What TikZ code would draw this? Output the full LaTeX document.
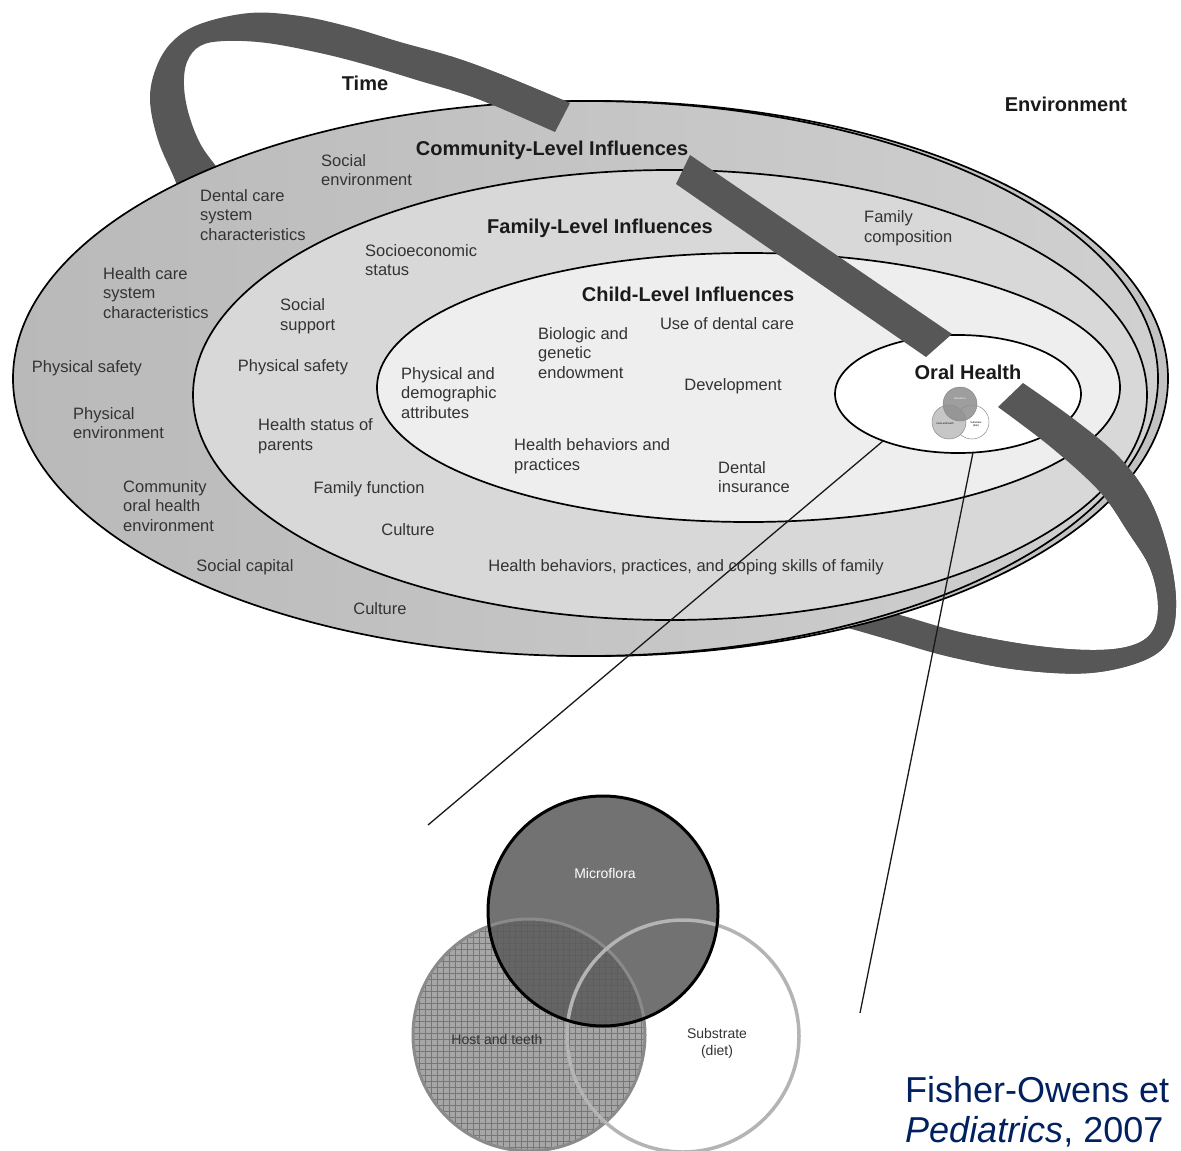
\documentclass[tikz,border=0pt]{standalone}
\usepackage{fontspec}
\setmainfont{Liberation Sans}
\definecolor{ribgray}{HTML}{575757}
\definecolor{rimgray}{HTML}{C2C2C2}
\definecolor{commL}{HTML}{B9B9B9}
\definecolor{commR}{HTML}{D0D0D0}
\definecolor{famgray}{HTML}{D8D8D8}
\definecolor{childgray}{HTML}{EEEEEE}
\definecolor{txtgray}{HTML}{333333}
\definecolor{hdrgray}{HTML}{1A1A1A}
\definecolor{citeblue}{HTML}{002060}
\definecolor{microgray}{HTML}{5A5A5A}
\definecolor{hostgray}{HTML}{A6A6A6}
\definecolor{gridgray}{HTML}{767676}
\definecolor{hostline}{HTML}{8A8A8A}
\definecolor{subline}{HTML}{B4B4B4}
\definecolor{smallmicro}{HTML}{8E8E8E}
\definecolor{smallhost}{HTML}{C6C6C6}
\newcommand{\ribTopPath}{plot[smooth,tension=0.6] coordinates {(188,215) (175,180) (158,140) (150,100) (156,68) (172,42) (200,24) (250,13) (300,16) (350,27) (400,42) (450,56) (500,74) (570,103)} -- plot[smooth,tension=0.6] coordinates {(555,132) (500,108) (467,95) (420,81) (367,65) (320,53) (267,43) (225,41) (200,46) (187,62) (184,86) (189,115) (201,145) (220,172) (240,205)} -- cycle}
\newcommand{\ribRightPath}{plot[smooth,tension=0.6] coordinates {(1023,383) (1075,420) (1120,458) (1150,500) (1168,550) (1176,600) (1170,638) (1145,660) (1090,673) (1020,670) (950,657) (890,640) (840,626) (790,615)} -- plot[smooth,tension=0.6] coordinates {(780,590) (840,600) (900,615) (960,632) (1030,645) (1090,650) (1130,646) (1152,632) (1158,605) (1150,568) (1128,532) (1100,492) (1052,448) (998,407)} -- cycle}
\begin{document}
\begin{tikzpicture}[x=1pt,y=-1pt,
  lbl/.style={font=\fontsize{16.5}{19.5}\selectfont, text=txtgray, inner sep=0pt, align=left},
  hdr/.style={font=\bfseries\fontsize{20}{24}\selectfont, text=hdrgray, inner sep=0pt},
  ribbon/.style={fill=ribgray},
  ring/.style={draw=black, line width=1.7pt},
  leader/.style={draw=black!90, line width=1.3pt},
  gridline/.style={draw=gridgray, line width=0.6pt},
  vennlbl/.style={font=\fontsize{14}{17}\selectfont, inner sep=0pt, align=center},
  tinylbl/.style={font=\fontsize{2.6}{3}\selectfont, inner sep=0pt, align=center},
  cite/.style={font=\fontsize{36}{45}\selectfont, text=citeblue, inner sep=0pt, anchor=west}
]
\useasboundingbox[fill=white] (0,0) rectangle (1181,1151);

% ribbons below the discs
\fill[ribbon] \ribTopPath;
\fill[ribbon] \ribRightPath;

% nested discs
\path[ring, fill=rimgray] (595.5,378.5) ellipse [x radius=572.5pt, y radius=277.5pt];
\path[ring, left color=commL, right color=commR] (585.5,378.5) ellipse [x radius=572.5pt, y radius=277.5pt];
\path[ring, fill=famgray] (670,395) ellipse [x radius=477pt, y radius=225pt];
\path[ring, fill=childgray] (748.5,387.5) ellipse [x radius=371.5pt, y radius=134.5pt];
\path[ring, fill=white] (958,394) ellipse [x radius=123pt, y radius=59pt];

% small venn in oral health
\path[draw=hostline, line width=0.5pt, fill=white] (972,422) circle[radius=17pt];
\path[draw=hostline, line width=0.5pt, fill=smallhost] (949,422) circle[radius=17pt];
\path[fill=smallmicro, fill opacity=0.85] (960,404) circle[radius=17pt];
\path[draw=hostline, line width=0.5pt] (960,404) circle[radius=17pt];
\node[tinylbl, text=white] (smicro) at (960,399) {Microflora};
\node[tinylbl] (shost) at (945,424) {Host and teeth};
\node[tinylbl] (ssub) at (976,424) {Substrate\\(diet)};

% ribbon parts on top of the discs
\begin{scope}
  \clip (450,0) rectangle (700,200);
  \fill[ribbon] \ribTopPath;
\end{scope}
\begin{scope}
  \clip (980,300) rectangle (1181,720);
  \fill[ribbon] \ribRightPath;
\end{scope}
\fill[ribbon] (690,155) -- (952,334) -- (926,357) -- (676,184) -- cycle;

% big venn
\coordinate (vmicro) at (603,911);
\coordinate (vhost) at (529,1035);
\coordinate (vsub) at (683,1036);
\path[fill=white] (vsub) circle[radius=116pt];
\path[fill=hostgray] (vhost) circle[radius=116pt];
\begin{scope}
  \clip (vhost) circle[radius=116pt];
  \foreach \k in {0,...,39} {
    \draw[gridline] (413+\k*6,915) -- ++(0,240);
    \draw[gridline] (410,919+\k*6) -- ++(240,0);
  }
\end{scope}
\path[fill=microgray, fill opacity=0.85] (vmicro) circle[radius=115pt];
\path[draw=hostline, line width=3pt] (vhost) circle[radius=116pt];
\path[draw=subline, line width=3.5pt] (vsub) circle[radius=116pt];
\path[draw=black, line width=3pt] (vmicro) circle[radius=115pt];

% leader lines
\coordinate (ohA) at (883,441);
\coordinate (ohB) at (973,452.5);
\coordinate (vA) at (428,825);
\coordinate (vB) at (860,1013);
\draw[leader] (ohA) -- (vA);
\draw[leader] (ohB) -- (vB);

% headers
\node[hdr] (time) at (365,83) {Time};
\node[hdr] (env) at (1066,104) {Environment};
\node[hdr] (comm) at (552,150) {Community-Level Influences};
\node[hdr] (fam) at (600,228) {Family-Level Influences};
\node[hdr] (child) at (688,294) {Child-Level Influences};
\node[hdr] (oral) at (968,372) {Oral Health};

% labels
\node[lbl, anchor=west] (socenv) at (321,170) {Social\\environment};
\node[lbl, anchor=west] (dental) at (200,215) {Dental care\\system\\characteristics};
\node[lbl, anchor=west] (famcomp) at (864,228) {Family\\composition};
\node[lbl, anchor=west] (ses) at (365,260) {Socioeconomic\\status};
\node[lbl, anchor=west] (hcs) at (103,293) {Health care\\system\\characteristics};
\node[lbl, anchor=west] (socsup) at (280,316) {Social\\support};
\node[lbl, anchor=west] (biol) at (538,353) {Biologic and\\genetic\\endowment};
\node[lbl] (usedc) at (727,324) {Use of dental care};
\node[lbl] (physafe1) at (87,368) {Physical safety};
\node[lbl] (physafe2) at (293,367) {Physical safety};
\node[lbl, anchor=west] (physdem) at (401,393) {Physical and\\demographic\\attributes};
\node[lbl] (devel) at (733,386) {Development};
\node[lbl, anchor=west] (physenv) at (73,423) {Physical\\environment};
\node[lbl, anchor=west] (hsp) at (258,436) {Health status of\\parents};
\node[lbl, anchor=west] (hbp) at (514,456) {Health behaviors and\\practices};
\node[lbl, anchor=west] (dins) at (718,477) {Dental\\insurance};
\node[lbl, anchor=west] (coh) at (123,506) {Community\\oral health\\environment};
\node[lbl] (famfn) at (369,489) {Family function};
\node[lbl] (cult1) at (408,530) {Culture};
\node[lbl] (soccap) at (245,567) {Social capital};
\node[lbl] (hbfam) at (686,567) {Health behaviors, practices, and coping skills of family};
\node[lbl] (cult2) at (380,609) {Culture};

% venn labels
\node[vennlbl, text=white] (micro) at (605,873) {Microflora};
\node[vennlbl, text=txtgray] (host) at (497,1039) {Host and teeth};
\node[vennlbl, text=txtgray] (subs) at (717,1043) {Substrate\\(diet)};

% citation
\node[cite] (cite1) at (905,1090) {Fisher-Owens et};
\node[cite] (cite2) at (905,1132) {\textit{Pediatrics}, 2007};
\end{tikzpicture}
\end{document}
